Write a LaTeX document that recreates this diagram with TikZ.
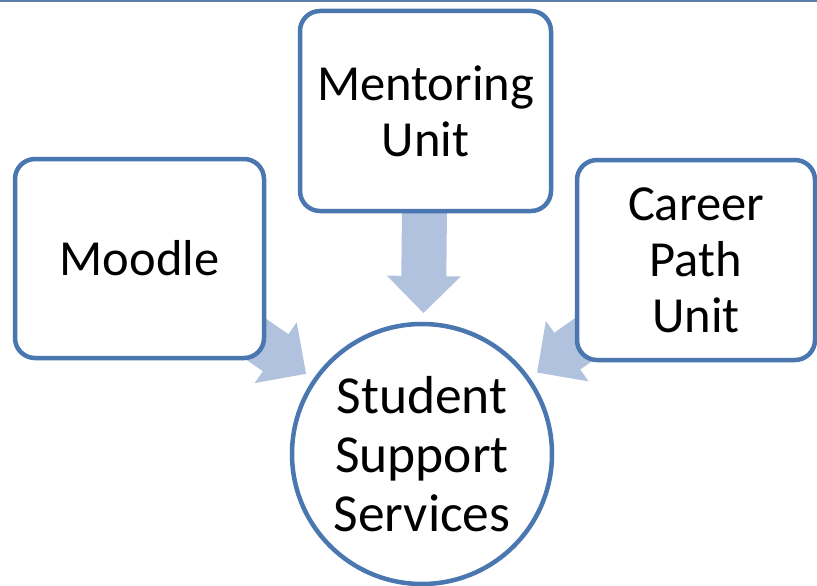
\documentclass[tikz,border=0pt]{standalone}
\usepackage{fontspec}
\setmainfont{Carlito}
\usetikzlibrary{calc}
\definecolor{boxblue}{HTML}{4A77B0}
\definecolor{arrowblue}{HTML}{B0C2DE}
\definecolor{toplinecol}{HTML}{5B7FA8}
\pgfdeclarelayer{background}
\pgfsetlayers{background,main}
\newcommand\blockarr[2]{%
  \coordinate (S) at (#1.center);
  \coordinate (T) at ($(#2.center)!141pt!(#1.center)$);
  \coordinate (B) at ($(T)!37pt!(S)$);
  \path[arrowfill] ($(S)!22.5pt!90:(T)$) -- ($(B)!22.5pt!90:(T)$) -- ($(B)!37pt!90:(T)$) -- (T)
     -- ($(B)!37pt!-90:(T)$) -- ($(B)!22.5pt!-90:(T)$) -- ($(S)!22.5pt!-90:(T)$) -- cycle;%
}
\begin{document}
\begin{tikzpicture}[x=1pt,y=-1pt,
  unitbox/.style={draw=boxblue, line width=4.5pt, fill=white, rounded corners=20pt,
    align=center, inner sep=0pt, font=\fontsize{50.5}{56}\selectfont},
  hub/.style={draw=boxblue, line width=4.5pt, fill=white, circle, minimum size=260pt,
    align=center, inner sep=0pt, font=\fontsize{53.5}{59}\selectfont},
  arrowfill/.style={fill=arrowblue}]
\useasboundingbox (0,0) rectangle (817,586);
\coordinate (tl) at (0,0.8);
\coordinate (tr) at (817,0.8);
\draw[toplinecol, line width=1.6pt] (tl) -- (tr);
\node[unitbox, minimum width=251pt, minimum height=200pt] (ment) at (425.5,111) {Mentoring\\Unit};
\node[unitbox, minimum width=249pt, minimum height=199pt] (mood) at (139.5,258.5) {Moodle};
\node[unitbox, minimum width=238pt, minimum height=200pt] (care) at (696,260) {Career\\Path\\Unit};
\node[hub] (sss) at (422,454) {Student\\Support\\Services};
\begin{pgfonlayer}{background}
\blockarr{ment}{sss}
\blockarr{mood}{sss}
\blockarr{care}{sss}
\end{pgfonlayer}
\end{tikzpicture}
\end{document}
